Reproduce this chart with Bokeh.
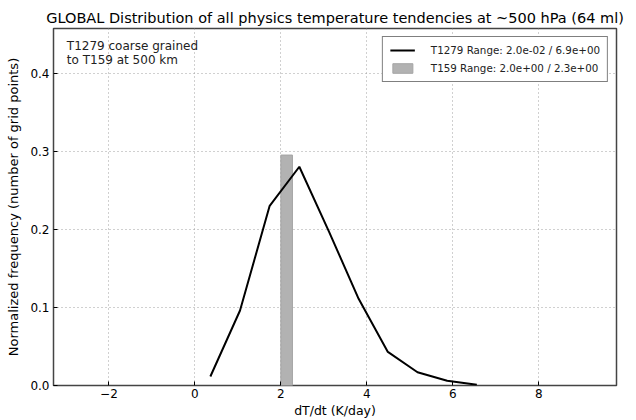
from bokeh.plotting import figure
from bokeh.models import Range1d, FixedTicker, Legend, LegendItem, Label, ColumnDataSource
from bokeh.embed import file_html
from bokeh.resources import INLINE

# ---- data ----
t1279_x = [0.36, 1.05, 1.74, 2.43, 3.12, 3.81, 4.49, 5.18, 5.87, 6.56]
t1279_y = [0.0115, 0.096, 0.230, 0.280, 0.197, 0.111, 0.043, 0.017, 0.006, 0.001]
t159_left = [2.0]
t159_right = [2.27]
t159_top = [0.295]
x_ticks = [-2, 0, 2, 4, 6, 8]
y_ticks = [0.0, 0.1, 0.2, 0.3, 0.4]
title_text = "GLOBAL Distribution of all physics temperature tendencies at ~500 hPa (64 ml)"
legend_labels = ["T1279 Range: 2.0e-02 / 6.9e+00", "T159 Range: 2.0e+00 / 2.3e+00"]
note_text = "T1279 coarse grained\nto T159 at 500 km"

FONT = "DejaVu Sans"

p = figure(width=636, height=420, output_backend="svg", toolbar_location=None,
           x_range=Range1d(-3.29, 9.81), y_range=Range1d(0, 0.457),
           min_border_left=53, min_border_right=20, min_border_top=28, min_border_bottom=33)

p.title.text = title_text
p.title.align = "center"
p.title.text_font = FONT
p.title.text_font_size = "14.5px"
p.title.text_font_style = "normal"
p.title.text_color = "black"
p.title.standoff = 5

p.outline_line_color = "#444444"
p.outline_line_width = 1.5
p.background_fill_color = "white"
p.border_fill_color = "white"

for ax in (p.xaxis[0], p.yaxis[0]):
    ax.axis_line_color = None
    ax.major_tick_in = 4
    ax.major_tick_out = 0
    ax.minor_tick_in = 0
    ax.minor_tick_out = 0
    ax.major_tick_line_color = "black"
    ax.major_label_text_font = FONT
    ax.major_label_text_font_size = "12px"
    ax.major_label_text_color = "black"
    ax.axis_label_text_font = FONT
    ax.axis_label_text_font_style = "normal"
    ax.axis_label_text_color = "black"

p.xaxis.axis_label_text_font_size = "12.5px"
p.yaxis.axis_label_text_font_size = "13px"
p.xaxis.ticker = FixedTicker(ticks=x_ticks)
p.yaxis.ticker = FixedTicker(ticks=y_ticks)
p.xaxis.major_label_overrides = {t: (str(t).replace("-", "\u2212")) for t in x_ticks}
p.yaxis.major_label_overrides = {t: f"{t:.1f}" for t in y_ticks}
p.xaxis.axis_label = "dT/dt (K/day)"
p.yaxis.axis_label = "Normalized frequency (number of grid points)"
p.xaxis.major_label_standoff = 3
p.xaxis.axis_label_standoff = 2
p.yaxis.major_label_standoff = 4
p.yaxis.axis_label_standoff = 6

p.xgrid.ticker = FixedTicker(ticks=x_ticks)
p.ygrid.ticker = FixedTicker(ticks=y_ticks)
for g in (p.xgrid[0], p.ygrid[0]):
    g.grid_line_color = "#a0a0a0"
    g.grid_line_dash = "1 3"
    g.grid_line_width = 1

bar_src = ColumnDataSource(dict(left=t159_left, right=t159_right, top=t159_top, bottom=[0.0]))
bars = p.quad(left="left", right="right", top="top", bottom="bottom", source=bar_src,
              fill_color="#b2b2b2", line_color="#a5a5a5", line_width=1)
line = p.line(t1279_x, t1279_y, line_color="black", line_width=2)

note = Label(x=-2.98, y=0.443, text=note_text, text_font=FONT, text_font_size="12px",
             text_baseline="top", text_color="#222222", text_line_height=0.95)
p.add_layout(note)

legend = Legend(items=[LegendItem(label=legend_labels[0], renderers=[line]),
                       LegendItem(label=legend_labels[1], renderers=[bars])],
                location="top_right", margin=8, padding=7, spacing=6,
                glyph_width=25, glyph_height=12, label_height=12, label_standoff=16,
                label_text_font=FONT, label_text_font_size="10.3px", label_text_color="#222222",
                border_line_color="black", border_line_width=1, background_fill_alpha=1)
p.add_layout(legend)

open("out.html", "w").write(file_html(p, INLINE))
